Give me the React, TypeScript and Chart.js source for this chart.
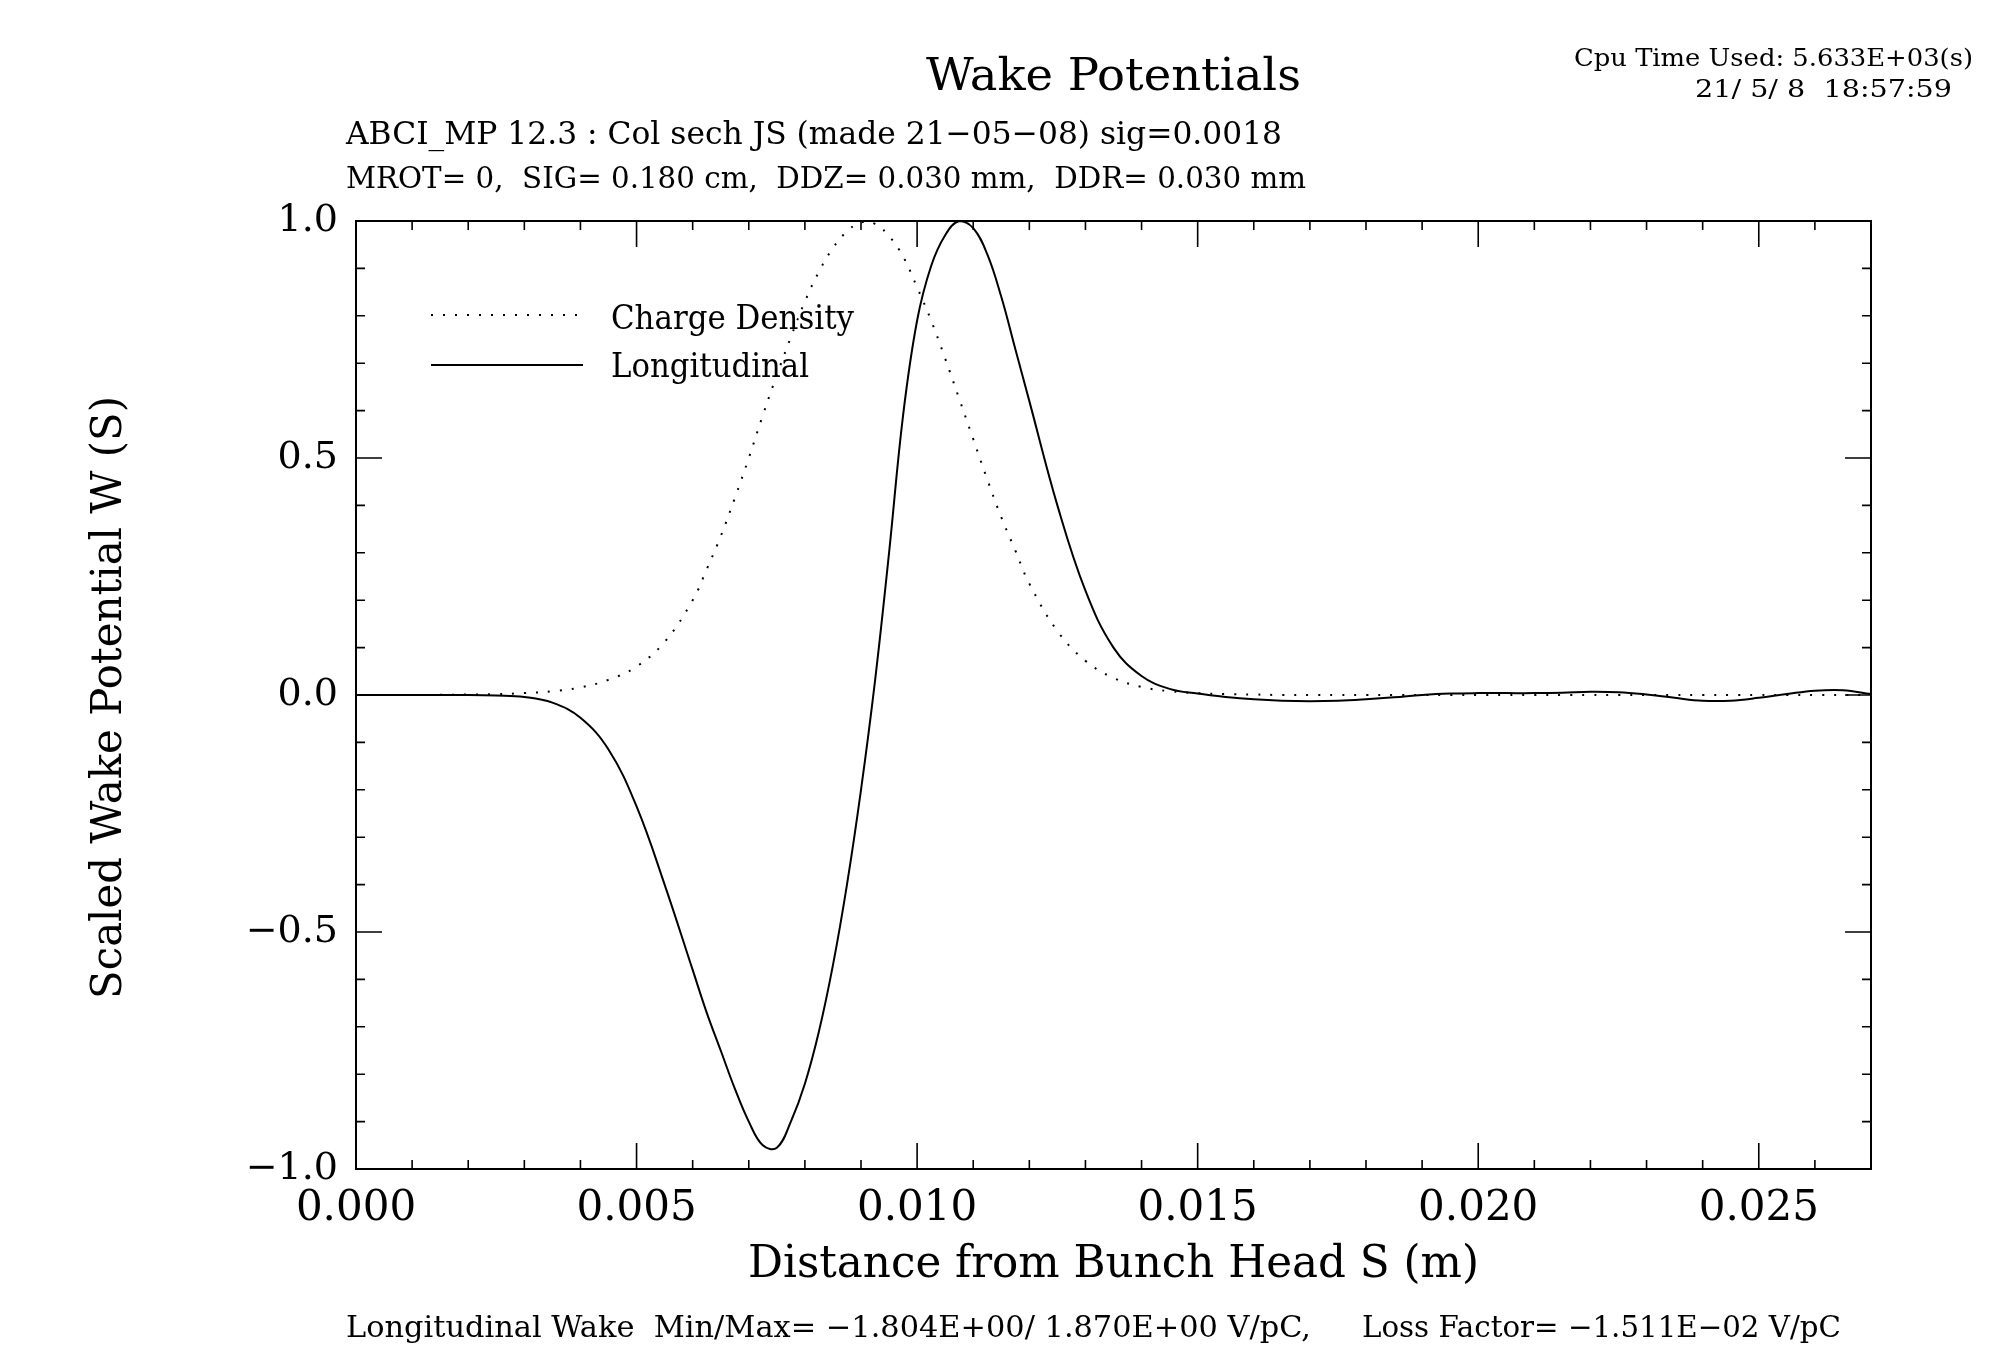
import React, { useEffect, useRef } from "react";
import { Chart, registerables } from "chart.js";

Chart.register(...registerables);

// Distance from bunch head, in mm (converted to m for the axis)
const S_MM = [
  0, 1, 2, 2.5, 3, 3.5, 4, 4.5, 5, 5.5, 6,
  6.25, 6.5, 6.75, 7, 7.25, 7.5, 7.75, 8, 8.25, 8.5, 8.75, 9, 9.25, 9.5, 9.75,
  10, 10.25, 10.5, 10.75, 11, 11.25, 11.5, 11.75, 12,
  12.5, 13, 13.5, 14, 14.5, 15, 15.5, 16, 16.5, 17, 17.5, 18, 18.5, 19, 19.5,
  20, 20.5, 21, 21.5, 22, 22.5, 23, 23.5, 24, 24.5, 25, 25.5, 26, 26.5, 27,
];

const CHARGE_DENSITY = [
  0, 0, 0.001, 0.002, 0.004, 0.008, 0.016, 0.032, 0.06, 0.112, 0.2,
  0.265, 0.335, 0.415, 0.5, 0.59, 0.675, 0.755, 0.83, 0.893, 0.943, 0.978, 0.997, 0.994, 0.968, 0.925,
  0.86, 0.79, 0.71, 0.625, 0.54, 0.455, 0.375, 0.305, 0.235,
  0.135, 0.072, 0.036, 0.017, 0.008, 0.004, 0.002, 0.001, 0, 0, 0, 0, 0, 0, 0,
  0, 0, 0, 0, 0, 0, 0, 0, 0, 0, 0, 0, 0, 0, 0,
];

const LONGITUDINAL = [
  0, 0, 0, -0.001, -0.004, -0.016, -0.048, -0.115, -0.235, -0.4, -0.58,
  -0.67, -0.75, -0.83, -0.9, -0.95, -0.955, -0.9, -0.82, -0.71, -0.57, -0.4, -0.2, 0.03, 0.3, 0.59,
  0.79, 0.905, 0.97, 1.0, 0.985, 0.93, 0.84, 0.73, 0.62,
  0.4, 0.22, 0.1, 0.04, 0.013, 0.003, -0.004, -0.009, -0.012, -0.013, -0.012, -0.009, -0.005, 0.0, 0.003,
  0.004, 0.004, 0.004, 0.005, 0.007, 0.006, 0.001, -0.006, -0.012, -0.012, -0.006, 0.002, 0.009, 0.01, 0.002,
];

const X_MIN = 0;
const X_MAX = 0.027;
const X_LABEL_STEP = 0.005;
const X_MINOR_STEP = 0.001;
const Y_MIN = -1;
const Y_MAX = 1;
const Y_LABEL_STEP = 0.5;
const Y_MINOR_STEP = 0.1;

const TITLE = "Wake Potentials";
const SUB1 = "ABCI_MP 12.3 : Col sech JS (made 21\u221205\u221208) sig=0.0018";
const SUB2 = "MROT= 0,  SIG= 0.180 cm,  DDZ= 0.030 mm,  DDR= 0.030 mm";
const CPU1 = "Cpu Time Used: 5.633E+03(s)";
const CPU2 = "21/ 5/ 8  18:57:59";
const X_TITLE = "Distance from Bunch Head S (m)";
const Y_TITLE = "Scaled Wake Potential W (S)";
const FOOT1 = "Longitudinal Wake  Min/Max= \u22121.804E+00/ 1.870E+00 V/pC,";
const FOOT2 = "Loss Factor= \u22121.511E\u221202 V/pC";
const LEGEND_LABELS = ["Charge Density", "Longitudinal"];

const FONT = "DejaVu Serif";

function fitText(
  ctx: CanvasRenderingContext2D,
  text: string,
  left: number,
  baseline: number,
  size: number,
  width: number,
  rotate = false
) {
  ctx.save();
  ctx.font = `${size}px "${FONT}"`;
  ctx.fillStyle = "#000";
  ctx.textAlign = "left";
  ctx.textBaseline = "alphabetic";
  const w = ctx.measureText(text).width;
  ctx.translate(left, baseline);
  if (rotate) ctx.rotate(-Math.PI / 2);
  ctx.scale(width / w, 1);
  ctx.fillText(text, 0, 0);
  ctx.restore();
}

const whiteBg = {
  id: "whiteBg",
  beforeDraw(chart: any) {
    const { ctx, width, height } = chart;
    ctx.save();
    ctx.fillStyle = "#fff";
    ctx.fillRect(0, 0, width, height);
    ctx.restore();
  },
};

const framePlugin = {
  id: "frameTicks",
  afterDatasetsDraw(chart: any) {
    const { ctx, chartArea: a } = chart;
    const xs = chart.scales.x;
    const ys = chart.scales.y;
    const MAJOR = 26;
    const MINOR = 9;
    ctx.save();
    ctx.strokeStyle = "#000";
    ctx.lineWidth = 1.6;
    ctx.beginPath();
    const nx = Math.round((X_MAX - X_MIN) / X_MINOR_STEP);
    const perX = Math.round(X_LABEL_STEP / X_MINOR_STEP);
    for (let i = 0; i <= nx; i++) {
      const px = xs.getPixelForValue(X_MIN + i * X_MINOR_STEP);
      const len = i % perX === 0 ? MAJOR : MINOR;
      ctx.moveTo(px, a.bottom);
      ctx.lineTo(px, a.bottom - len);
      ctx.moveTo(px, a.top);
      ctx.lineTo(px, a.top + len);
    }
    const ny = Math.round((Y_MAX - Y_MIN) / Y_MINOR_STEP);
    const perY = Math.round(Y_LABEL_STEP / Y_MINOR_STEP);
    for (let i = 0; i <= ny; i++) {
      const py = ys.getPixelForValue(Y_MIN + i * Y_MINOR_STEP);
      const len = i % perY === 0 ? MAJOR : MINOR;
      ctx.moveTo(a.left, py);
      ctx.lineTo(a.left + len, py);
      ctx.moveTo(a.right, py);
      ctx.lineTo(a.right - len, py);
    }
    ctx.stroke();
    ctx.lineWidth = 2;
    ctx.strokeRect(a.left, a.top, a.right - a.left, a.bottom - a.top);

    // legend
    ctx.lineWidth = 2;
    ctx.setLineDash([2, 10]);
    ctx.beginPath();
    ctx.moveTo(431, 315);
    ctx.lineTo(583, 315);
    ctx.stroke();
    ctx.setLineDash([]);
    ctx.beginPath();
    ctx.moveTo(431, 365);
    ctx.lineTo(583, 365);
    ctx.stroke();
    ctx.restore();
    fitText(ctx, LEGEND_LABELS[0], 611, 329, 33, 243);
    fitText(ctx, LEGEND_LABELS[1], 611, 377, 33, 198);
  },
  afterDraw(chart: any) {
    const ctx = chart.ctx;
    fitText(ctx, TITLE, 926, 90, 45, 375);
    fitText(ctx, SUB1, 346, 144, 32, 936);
    fitText(ctx, SUB2, 346, 188, 29, 960);
    fitText(ctx, CPU1, 1574, 66, 25, 399);
    fitText(ctx, CPU2, 1695, 97, 25, 257);
    fitText(ctx, X_TITLE, 748, 1277, 45, 731);
    fitText(ctx, Y_TITLE, 121, 999, 43, 603, true);
    fitText(ctx, FOOT1, 346, 1337, 30, 965);
    fitText(ctx, FOOT2, 1362, 1337, 30, 479);
  },
};

export default function App() {
  const ref = useRef<HTMLCanvasElement | null>(null);

  useEffect(() => {
    if (!ref.current) return;
    const charge = S_MM.map((s, i) => ({ x: s / 1000, y: CHARGE_DENSITY[i] }));
    const wake = S_MM.map((s, i) => ({ x: s / 1000, y: LONGITUDINAL[i] }));
    const chart = new Chart(ref.current, {
      type: "line",
      data: {
        datasets: [
          {
            label: LEGEND_LABELS[0],
            data: charge,
            borderColor: "#000",
            borderWidth: 2,
            borderDash: [2, 10],
            pointRadius: 0,
            tension: 0.4,
            fill: false,
          },
          {
            label: LEGEND_LABELS[1],
            data: wake,
            borderColor: "#000",
            borderWidth: 2,
            pointRadius: 0,
            tension: 0.4,
            fill: false,
          },
        ],
      },
      options: {
        responsive: false,
        devicePixelRatio: 1,
        animation: false,
        events: [],
        layout: { padding: { top: 221, right: 145, bottom: 0, left: 0 } },
        plugins: {
          legend: { display: false },
          title: { display: false },
          tooltip: { enabled: false },
        },
        scales: {
          x: {
            type: "linear",
            min: X_MIN,
            max: X_MAX,
            afterFit: (s: any) => {
              s.height = 176;
            },
            grid: { display: false, drawTicks: false },
            border: { display: false },
            ticks: {
              stepSize: X_LABEL_STEP,
              includeBounds: false,
              autoSkip: false,
              maxRotation: 0,
              padding: 15,
              color: "#000",
              font: { family: FONT, size: 42 },
              callback: (v: any) => Number(v).toFixed(3),
            },
          },
          y: {
            type: "linear",
            min: Y_MIN,
            max: Y_MAX,
            afterFit: (s: any) => {
              s.width = 356;
            },
            grid: { display: false, drawTicks: false },
            border: { display: false },
            ticks: {
              stepSize: Y_LABEL_STEP,
              autoSkip: false,
              padding: 18,
              color: "#000",
              font: { family: FONT, size: 38 },
              callback: (v: any) => Number(v).toFixed(1).replace("-", "\u2212"),
            },
          },
        },
      },
      plugins: [whiteBg, framePlugin],
    } as any);
    return () => chart.destroy();
  }, []);

  return (
    <div style={{ position: "absolute", left: 0, top: 0, width: 2016, height: 1345, background: "#fff" }}>
      <canvas ref={ref} width={2016} height={1345} style={{ display: "block", width: 2016, height: 1345 }} />
    </div>
  );
}
